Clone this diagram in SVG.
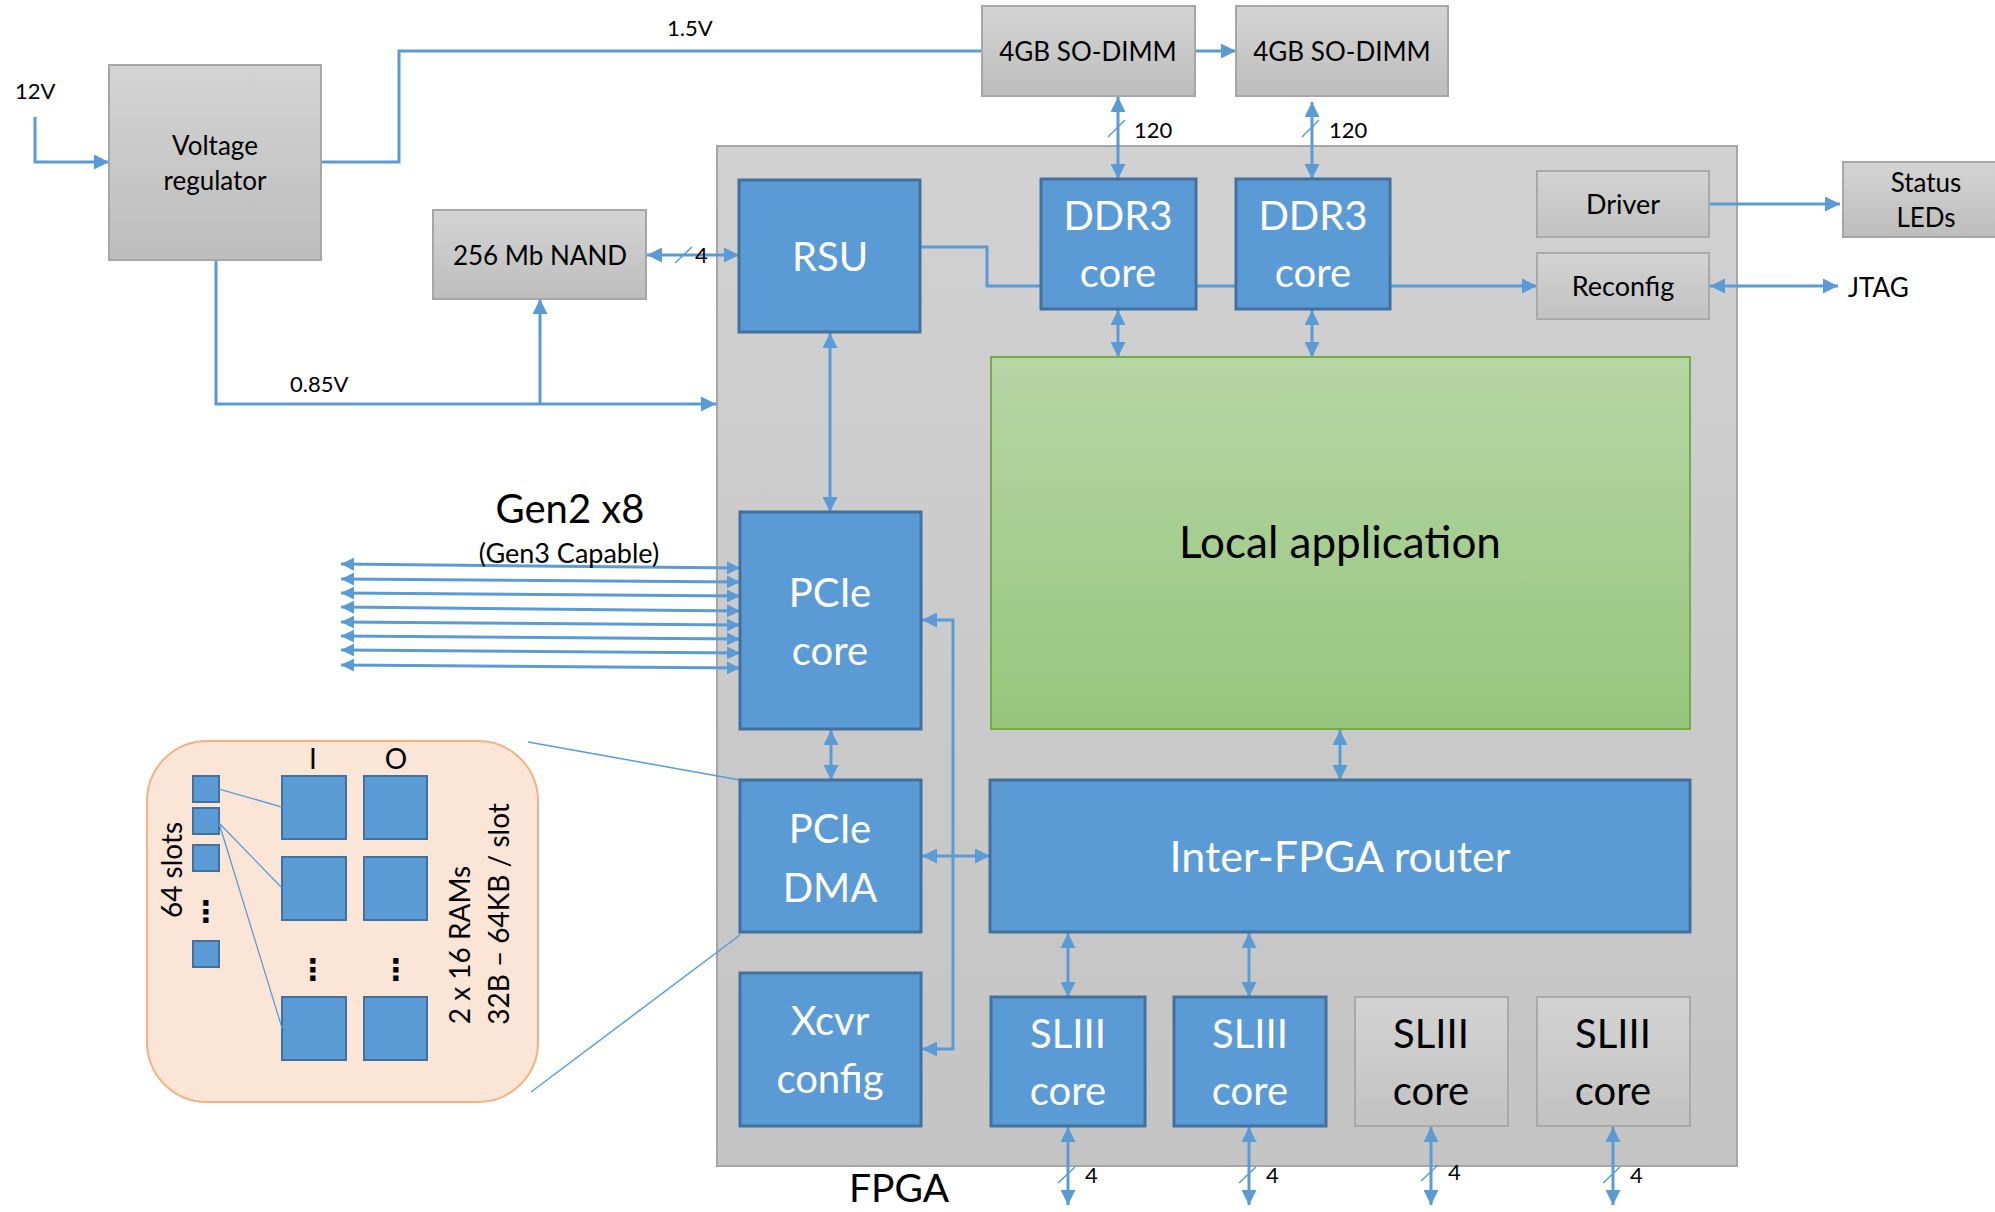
<svg xmlns="http://www.w3.org/2000/svg" width="1995" height="1212" viewBox="0 0 1995 1212">
<defs>
<linearGradient id="gGray" x1="0" y1="0" x2="0" y2="1"><stop offset="0" stop-color="#d4d4d4"/><stop offset="1" stop-color="#bdbdbd"/></linearGradient>
<linearGradient id="gFpga" x1="0" y1="0" x2="0" y2="1"><stop offset="0" stop-color="#d1d1d1"/><stop offset="1" stop-color="#c4c4c4"/></linearGradient>
<linearGradient id="gInner" x1="0" y1="0" x2="0" y2="1"><stop offset="0" stop-color="#d3d3d3"/><stop offset="1" stop-color="#c2c2c2"/></linearGradient>
<linearGradient id="gGreen" x1="0" y1="0" x2="0" y2="1"><stop offset="0" stop-color="#b6d6a6"/><stop offset="1" stop-color="#97c67c"/></linearGradient>
<marker id="ah" viewBox="0 0 15 15" refX="15" refY="7.5" markerWidth="15" markerHeight="15" markerUnits="userSpaceOnUse" orient="auto-start-reverse"><path d="M0,0 L15,7.5 L0,15 z" fill="#5b9bd5"/></marker>
<marker id="ahs" viewBox="0 0 13 13" refX="13" refY="6.5" markerWidth="13" markerHeight="13" markerUnits="userSpaceOnUse" orient="auto-start-reverse"><path d="M0,0 L13,6.5 L0,13 z" fill="#5b9bd5"/></marker>
</defs>
<style>
.t{font-family:Lato,"Open Sans","Liberation Sans",sans-serif;fill:#000}
.s22{font-size:22px}
.s26{font-size:26px}
.s27{font-size:27px}
.s28{font-size:28px}
.s40{font-size:40px}
.w{fill:#fff}
.m{text-anchor:middle}
.gray{fill:url(#gGray);stroke:#a6a6a6;stroke-width:2}
.inner{fill:url(#gInner);stroke:#a9a9a9;stroke-width:2}
.blue{fill:#5b9bd5;stroke:#41719c;stroke-width:3}
.sq{fill:#5b9bd5;stroke:#41719c;stroke-width:2}
.c{fill:none;stroke:#5b9bd5;stroke-width:3}
.a{marker-end:url(#ah)}
.b{marker-start:url(#ah);marker-end:url(#ah)}
.lane{fill:none;stroke:#5b9bd5;stroke-width:3;marker-start:url(#ahs);marker-end:url(#ahs)}
.thin{fill:none;stroke:#5b9bd5;stroke-width:1.5}
.dots{font-family:"DejaVu Sans",sans-serif;font-size:30px;font-weight:bold;text-anchor:middle;fill:#000}
</style>
<rect width="1995" height="1212" fill="#fff"/>

<g id="fpga">
<rect x="717" y="146" width="1020" height="1020" fill="url(#gFpga)" stroke="#a6a6a6" stroke-width="2"/>
<text class="t" x="849" y="1202" style="font-size:39px">FPGA</text>
</g>

<g id="connectors">
<path class="c a" d="M35,117 L35,162 L109,162"/>
<path class="c" d="M321,162 L399,162 L399,51 L982,51"/>
<path class="c a" d="M1195,51 L1236,51"/>
<path class="c a" d="M216,260 L216,404 L716,404"/>
<path class="c a" d="M540,404 L540,299"/>
<path class="c b" d="M647,255 L739,255"/>
<path class="thin" d="M675,263 L692,247"/>
<path class="c a" d="M920,247 L987,247 L987,286 L1537,286"/>
<path class="c b" d="M1118,97 L1118,179"/>
<path class="thin" d="M1108,137 L1125,120"/>
<path class="c b" d="M1312,102 L1312,179"/>
<path class="thin" d="M1302,137 L1319,120"/>
<path class="c b" d="M1118,310 L1118,357"/>
<path class="c b" d="M1312,310 L1312,357"/>
<path class="c a" d="M1709,204 L1840,204"/>
<path class="c b" d="M1710,286 L1838,286"/>
<path class="c b" d="M830,333 L830,512"/>
<path class="c b" d="M831,730 L831,780"/>
<path class="c b" d="M922,620 L953,620 L953,1049 L922,1049"/>
<path class="c b" d="M922,856 L990,856"/>
<path class="c b" d="M1340,730 L1340,780"/>
<path class="c b" d="M1068,933 L1068,997"/>
<path class="c b" d="M1249,933 L1249,997"/>
<path class="c b" d="M1068,1127 L1068,1205"/>
<path class="c b" d="M1249,1127 L1249,1205"/>
<path class="c b" d="M1431,1127 L1431,1205"/>
<path class="c b" d="M1613,1127 L1613,1205"/>
<path class="thin" d="M1058,1183 L1075,1167 M1239,1183 L1256,1167 M1421,1181 L1438,1165 M1603,1183 L1620,1167"/>
<path class="lane" d="M341,564 L740,568"/>
<path class="lane" d="M341,579 L740,582"/>
<path class="lane" d="M341,593 L740,596"/>
<path class="lane" d="M341,607 L740,611"/>
<path class="lane" d="M341,622 L740,625"/>
<path class="lane" d="M341,636 L740,639"/>
<path class="lane" d="M341,650 L740,653"/>
<path class="lane" d="M341,665 L740,668"/>
<path class="thin" d="M528,742 L740,780"/>
<path class="thin" d="M531,1092 L740,935"/>
<text class="t s22" x="15" y="99">12V</text>
<text class="t s22" x="667" y="36">1.5V</text>
<text class="t s22" x="290" y="392">0.85V</text>
<text class="t s22" x="695" y="263">4</text>
<text class="t s22" x="1134" y="138">120</text>
<text class="t s22" x="1329" y="138">120</text>
<text class="t s22" x="1085" y="1183">4</text>
<text class="t s22" x="1266" y="1183">4</text>
<text class="t s22" x="1448" y="1180">4</text>
<text class="t s22" x="1630" y="1183">4</text>
<text class="t s40 m" x="570" y="523">Gen2 x8</text>
<text class="t s27 m" x="569" y="563">(Gen3 Capable)</text>
</g>

<g id="voltage-regulator">
<rect class="gray" x="109" y="65" width="212" height="195"/>
<text class="t s26 m" x="215" y="155">Voltage</text>
<text class="t s26 m" x="215" y="190">regulator</text>
</g>
<g id="nand">
<rect class="gray" x="433" y="210" width="213" height="89"/>
<text class="t s26 m" x="540" y="265">256 Mb NAND</text>
</g>
<g id="sodimm1">
<rect class="gray" x="982" y="6" width="213" height="90"/>
<text class="t s26 m" x="1088" y="61">4GB SO-DIMM</text>
</g>
<g id="sodimm2">
<rect class="gray" x="1236" y="6" width="212" height="90"/>
<text class="t s26 m" x="1342" y="61">4GB SO-DIMM</text>
</g>
<g id="status-leds">
<rect class="gray" x="1843" y="162" width="160" height="75"/>
<text class="t s26 m" x="1926" y="192">Status</text>
<text class="t s26 m" x="1926" y="227">LEDs</text>
</g>
<g id="jtag">
<text class="t s26" x="1848" y="297">JTAG</text>
</g>

<g id="rsu">
<rect class="blue" x="739" y="180" width="181" height="152"/>
<text class="t s40 w m" x="830" y="271">RSU</text>
</g>
<g id="ddr3-1">
<rect class="blue" x="1041" y="179" width="155" height="130"/>
<text class="t s40 w m" x="1118" y="230">DDR3</text>
<text class="t s40 w m" x="1118" y="287">core</text>
</g>
<g id="ddr3-2">
<rect class="blue" x="1236" y="179" width="154" height="130"/>
<text class="t s40 w m" x="1313" y="230">DDR3</text>
<text class="t s40 w m" x="1313" y="287">core</text>
</g>
<g id="driver">
<rect class="inner" x="1537" y="171" width="172" height="66"/>
<text class="t s27 m" x="1623" y="214">Driver</text>
</g>
<g id="reconfig">
<rect class="inner" x="1537" y="253" width="172" height="66"/>
<text class="t s27 m" x="1623" y="296">Reconfig</text>
</g>
<g id="local-application">
<rect x="991" y="357" width="699" height="372" fill="url(#gGreen)" stroke="#70ad47" stroke-width="2"/>
<text class="t m" x="1340" y="558" style="font-size:44px">Local application</text>
</g>
<g id="pcie-core">
<rect class="blue" x="740" y="512" width="181" height="217"/>
<text class="t s40 w m" x="830" y="607">PCIe</text>
<text class="t s40 w m" x="830" y="665">core</text>
</g>
<g id="pcie-dma">
<rect class="blue" x="740" y="780" width="181" height="152"/>
<text class="t s40 w m" x="830" y="843">PCIe</text>
<text class="t s40 w m" x="830" y="902">DMA</text>
</g>
<g id="router">
<rect class="blue" x="990" y="780" width="700" height="152"/>
<text class="t w m" x="1340" y="872" style="font-size:43px">Inter-FPGA router</text>
</g>
<g id="xcvr-config">
<rect class="blue" x="740" y="973" width="181" height="153"/>
<text class="t s40 w m" x="830" y="1035">Xcvr</text>
<text class="t s40 w m" x="830" y="1093">config</text>
</g>
<g id="sliii-1">
<rect class="blue" x="991" y="997" width="154" height="129"/>
<text class="t s40 w m" x="1068" y="1048">SLIII</text>
<text class="t s40 w m" x="1068" y="1105">core</text>
</g>
<g id="sliii-2">
<rect class="blue" x="1174" y="997" width="152" height="129"/>
<text class="t s40 w m" x="1250" y="1048">SLIII</text>
<text class="t s40 w m" x="1250" y="1105">core</text>
</g>
<g id="sliii-3">
<rect class="inner" x="1355" y="997" width="153" height="129"/>
<text class="t s40 m" x="1431" y="1048">SLIII</text>
<text class="t s40 m" x="1431" y="1105">core</text>
</g>
<g id="sliii-4">
<rect class="inner" x="1537" y="997" width="153" height="129"/>
<text class="t s40 m" x="1613" y="1048">SLIII</text>
<text class="t s40 m" x="1613" y="1105">core</text>
</g>

<g id="dma-detail">
<rect x="147" y="741" width="391" height="361" rx="60" ry="60" fill="#fbe5d6" stroke="#f4b183" stroke-width="2"/>
<rect class="sq" x="193" y="776" width="26" height="26"/>
<rect class="sq" x="193" y="808" width="26" height="26"/>
<rect class="sq" x="193" y="845" width="26" height="26"/>
<rect class="sq" x="193" y="941" width="26" height="26"/>
<text class="dots" x="206" y="922">⋮</text>
<rect class="sq" x="282" y="776" width="64" height="63"/>
<rect class="sq" x="364" y="776" width="63" height="63"/>
<rect class="sq" x="282" y="857" width="64" height="63"/>
<rect class="sq" x="364" y="857" width="63" height="63"/>
<rect class="sq" x="282" y="997" width="64" height="63"/>
<rect class="sq" x="364" y="997" width="63" height="63"/>
<text class="dots" x="313" y="980">⋮</text>
<text class="dots" x="396" y="980">⋮</text>
<path fill="none" stroke="#5b9bd5" stroke-width="1.3" d="M219,789 L282,807 M219,823 L282,888 M219,823 L282,1028"/>
<text class="t s28 m" x="313" y="769">I</text>
<text class="t s28 m" x="396" y="769">O</text>
<text class="t s28 m" transform="translate(182,870) rotate(-90)">64 slots</text>
<text class="t s28 m" transform="translate(470,945) rotate(-90)">2 x 16 RAMs</text>
<text class="t s28 m" transform="translate(509,914) rotate(-90)">32B – 64KB / slot</text>
</g>
</svg>
